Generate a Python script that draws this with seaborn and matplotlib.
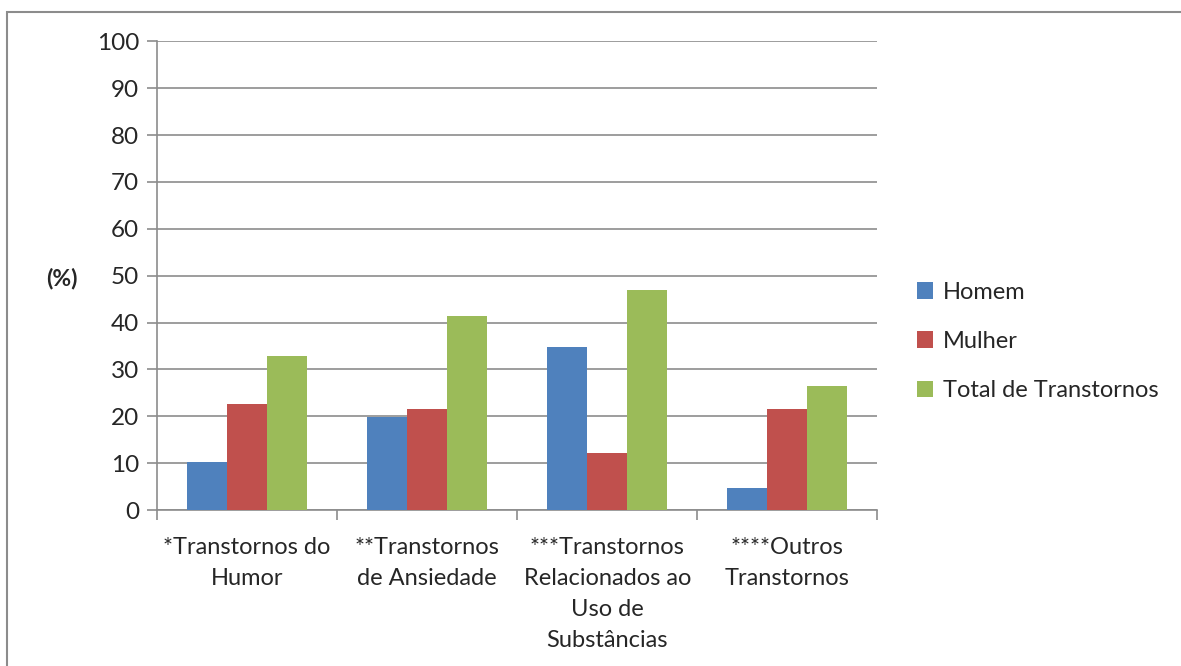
import pandas as pd
import numpy as np
import matplotlib.pyplot as plt
import seaborn as sns
from matplotlib.patches import Rectangle
from matplotlib.ticker import FixedLocator

sns.set_theme(style="white")
plt.rcParams['font.family'] = ['Lato', 'DejaVu Sans']

categorias = ['*Transtornos do\nHumor', '**Transtornos\nde Ansiedade',
              '***Transtornos\nRelacionados ao\nUso de\nSubstâncias',
              '****Outros\nTranstornos']
series = ['Homem', 'Mulher', 'Total de Transtornos']
homem = [10.3, 19.8, 34.9, 4.7]
mulher = [22.6, 21.6, 12.2, 21.6]
total = [32.9, 41.5, 47.0, 26.4]
cores = ['#4F81BD', '#C0504D', '#9BBB59']

df = pd.DataFrame({
    'categoria': categorias * 3,
    'serie': [s for s in series for _ in categorias],
    'valor': homem + mulher + total,
})

fig = plt.figure(figsize=(11.81, 6.66), dpi=100)
ax = fig.add_axes([0.133, 0.234, 0.610, 0.704])

sns.barplot(data=df, x='categoria', y='valor', hue='serie', palette=cores,
            width=0.667, gap=0, saturation=1, linewidth=0, ax=ax, zorder=3)

ax.set_ylim(0, 100)
ax.set_xlim(-0.5, 3.5)
ax.set_yticks(np.arange(0, 101, 10))
ax.yaxis.grid(True, color='#8c8c8c', linewidth=1.2, zorder=0)
ax.set_axisbelow(True)
for s in ['top', 'right']:
    ax.spines[s].set_visible(False)
for s in ['left', 'bottom']:
    ax.spines[s].set_color('#8c8c8c')
    ax.spines[s].set_linewidth(1.2)

ax.tick_params(axis='y', length=7, color='#8c8c8c', width=1.2, labelsize=17.5, pad=6, left=True)
ax.tick_params(axis='x', which='major', length=0, labelsize=17, pad=19)
for lbl in ax.get_xticklabels():
    lbl.set_linespacing(1.6)
ax.xaxis.set_minor_locator(FixedLocator([-0.5, 0.5, 1.5, 2.5, 3.5]))
ax.tick_params(axis='x', which='minor', length=7, color='#8c8c8c', width=1.2, bottom=True)
ax.set_xlabel('')
ax.set_ylabel('(%)', fontsize=16.5, fontweight='bold', rotation=0)
ax.yaxis.set_label_coords(-0.132, 0.47)

ax.legend(loc='center left', bbox_to_anchor=(1.025, 0.36), frameon=False, fontsize=17,
          handlelength=0.7, handleheight=0.7, handletextpad=0.4, labelspacing=1.2)

fig.patches.append(Rectangle((0.006, -0.1), 1.1, 1.082, transform=fig.transFigure,
                             fill=False, edgecolor='#8c8c8c', linewidth=1.5))

fig.savefig('out.png', dpi=100)
